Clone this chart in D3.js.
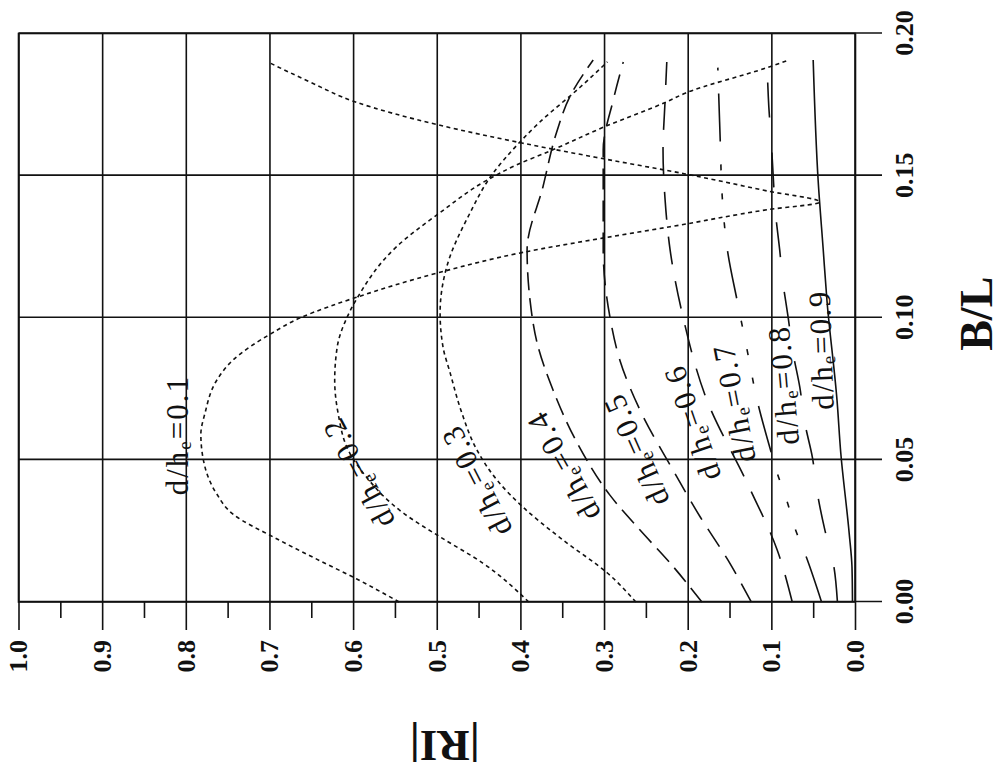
<!DOCTYPE html>
<html lang="en">
<head>
<meta charset="utf-8">
<title>|RI| vs B/L</title>
<script type="text/javascript" src="https://cdnjs.cloudflare.com/ajax/libs/d3/7.8.5/d3.min.js"></script>
<style>
body { margin: 0; background: #fff; }
.axis path { display: none; }
.axis line { stroke: #111; stroke-width: 1.6px; }
.axis text {
    font-family: "Liberation Serif", "Times New Roman", serif;
    font-weight: bold;
    font-size: 26px;
    fill: #111;
}
.curve { fill: none; stroke: #111; stroke-width: 1.6px; }
.lbl {
    font-family: "Liberation Serif", "Times New Roman", serif;
    font-size: 31px;
    letter-spacing: 2px;
    fill: #111;
}
</style>
</head>
<body>
<script type="text/javascript">

var w = 1003, h = 774;
// plot size in the chart's own (unrotated) frame
var W = 568.5, H = 836.5;

// axis ticks
var blTicks = [0.00, 0.05, 0.10, 0.15, 0.20];
var riTicks = [0.0, 0.1, 0.2, 0.3, 0.4, 0.5, 0.6, 0.7, 0.8, 0.9, 1.0];
var riMinor = [0.05, 0.15, 0.25, 0.35, 0.45, 0.55, 0.65, 0.75, 0.85, 0.95];

// curves, [B/L, |RI|]
var rh01 = [[0,0.545],[0.008,0.595],[0.015,0.643],[0.0225,0.693],[0.031,0.744],[0.038,0.763],[0.050,0.779],
            [0.059,0.782],[0.0665,0.777],[0.078,0.763],[0.085,0.744],[0.0946,0.697],[0.100,0.663],[0.104,0.628],
            [0.107,0.598],[0.116,0.496],[0.123,0.397],[0.128,0.302],[0.132,0.221],[0.138,0.105],[0.1407,0.042],
            [0.1446,0.105],[0.1506,0.203],[0.156,0.302],[0.1614,0.397],[0.1677,0.496],[0.176,0.598],[0.183,0.652],
            [0.190,0.702]];
var rh02 = [[0,0.39],[0.0137,0.445],[0.0229,0.496],[0.0313,0.540],[0.0454,0.588],[0.0524,0.604],[0.0665,0.618],
            [0.078,0.622],[0.0897,0.619],[0.1003,0.607],[0.107,0.595],[0.125,0.548],[0.137,0.496],[0.1484,0.44],
            [0.1537,0.405],[0.159,0.362],[0.167,0.301],[0.176,0.225],[0.179,0.203],[0.188,0.105],[0.1906,0.080]];
var rh03 = [[0,0.262],[0.0102,0.296],[0.0218,0.349],[0.0334,0.397],[0.0429,0.428],[0.0535,0.452],[0.0665,0.470],
            [0.0806,0.484],[0.0897,0.4925],[0.1017,0.496],[0.118,0.488],[0.137,0.46],[0.1495,0.436],[0.162,0.40],
            [0.1685,0.378],[0.181,0.329],[0.19,0.296]];
var rh04 = [[0,0.183],[0.0137,0.221],[0.0253,0.257],[0.0376,0.293],[0.0559,0.332],[0.0746,0.361],[0.0911,0.380],
            [0.1062,0.3885],[0.1238,0.392],[0.1461,0.373],[0.165,0.357],[0.1777,0.341],[0.1907,0.313]];
var rh05 = [[0,0.124],[0.0148,0.152],[0.0299,0.185],[0.0464,0.2176],[0.0675,0.257],[0.085,0.281],[0.1003,0.293],
            [0.1238,0.301],[0.159,0.301],[0.1766,0.289],[0.19,0.277]];
var rh06 = [[0,0.075],[0.0183,0.093],[0.0419,0.129],[0.071,0.177],[0.1003,0.2056],[0.1238,0.221],[0.1414,0.227],
            [0.159,0.2295],[0.1766,0.227],[0.19,0.225]];
var rh07 = [[0,0.04],[0.0172,0.060],[0.0253,0.071],[0.0352,0.081],[0.0454,0.093],[0.0545,0.102],[0.071,0.117],
            [0.0887,0.129],[0.1062,0.141],[0.1228,0.152],[0.1439,0.159],[0.1614,0.161],[0.188,0.164]];
var rh08 = [[0,0.021],[0.0137,0.026],[0.0253,0.036],[0.0383,0.045],[0.051,0.051],[0.063,0.060],[0.0756,0.066],
            [0.0876,0.074],[0.1003,0.080],[0.1122,0.086],[0.1238,0.090],[0.1369,0.095],[0.151,0.098],
            [0.1615,0.100],[0.1741,0.103],[0.188,0.105]];
var rh09 = [[0,0.003],[0.0123,0.0036],[0.0243,0.007],[0.0524,0.017],[0.071,0.0215],[0.106,0.0335],[0.124,0.038],
            [0.148,0.044],[0.1907,0.050]];

var ratios = ["0.1", "0.2", "0.3", "0.4", "0.5", "0.6", "0.7", "0.8", "0.9"];
var curves = [rh01, rh02, rh03, rh04, rh05, rh06, rh07, rh08, rh09];

// line styles per curve
var dashes = ["4,3.5", "4,3.5", "4,3.5", "18,8", "21,11", "28,17",
              "48,23,6,23,6,23,6,23", "35,35", null];

// where each curve label sits (B/L, |RI|) and its tilt in the chart frame
var labelAt = [[0.0587,0.810,0], [0.0454,0.594,-28], [0.0426,0.453,-27], [0.0478,0.349,-29],
               [0.0535,0.262,-24], [0.063,0.195,-19], [0.070,0.145,-11], [0.0763,0.086,-5],
               [0.0887,0.041,-2]];

var svg = d3.select("body")
            .append("svg")
            .attr("width", w)
            .attr("height", h);

svg.append("rect").attr("width", w).attr("height", h).attr("fill", "#fff");

// the whole chart is turned a quarter turn to the left
var g = svg.append("g")
           .attr("transform", "translate(18.5,602) rotate(-90)");

var x = d3.scaleLinear().domain([0, 0.2]).range([0, W]);
var y = d3.scaleLinear().domain([0, 1]).range([H, 0]);

var xAxis = d3.axisBottom(x)
              .tickValues(blTicks)
              .tickSize(27)
              .tickPadding(13)
              .tickFormat(d3.format(".2f"));
var gx = g.append("g")
          .attr("class", "axis")
          .attr("transform", "translate(0," + H + ")")
          .call(xAxis);
gx.selectAll(".tick line").attr("y1", -H);

var yAxis = d3.axisLeft(y)
              .tickValues(riTicks)
              .tickSize(28)
              .tickPadding(10)
              .tickFormat(d3.format(".1f"));
var gy = g.append("g")
          .attr("class", "axis")
          .call(yAxis);
gy.selectAll(".tick line").attr("x1", W);

g.append("g")
 .attr("class", "axis")
 .call(d3.axisLeft(y).tickValues(riMinor).tickSize(16).tickFormat(""));

g.append("rect")
 .attr("width", W)
 .attr("height", H)
 .attr("fill", "none")
 .attr("stroke", "#111")
 .attr("stroke-width", 1.6);

var line = d3.line()
             .x(function(d) { return x(d[0]); })
             .y(function(d) { return y(d[1]); })
             .curve(d3.curveMonotoneX);

g.selectAll("path.curve")
 .data(curves)
 .enter()
 .append("path")
 .attr("class", "curve")
 .attr("d", line)
 .attr("stroke-dasharray", function(d, i) { return dashes[i]; });

// curve labels  d/h_e=0.x
var lbl = g.selectAll("text.lbl")
           .data(ratios)
           .enter()
           .append("text")
           .attr("class", "lbl")
           .attr("text-anchor", "middle")
           .attr("dominant-baseline", "central")
           .attr("transform", function(d, i) {
               var p = labelAt[i];
               return "translate(" + x(p[0]) + "," + y(p[1]) + ") rotate(" + p[2] + ")";
           });
lbl.append("tspan").text("d/h");
lbl.append("tspan").attr("font-size", "19px").attr("dy", 7).text("e");
lbl.append("tspan").attr("dy", -7).text(function(d) { return "=" + d; });

// axis titles
g.append("text")
 .attr("x", W / 2 + 4)
 .attr("y", H + 137)
 .attr("text-anchor", "middle")
 .attr("font-family", "Liberation Serif, serif")
 .attr("font-weight", "bold")
 .attr("font-size", "46px")
 .attr("fill", "#111")
 .text("B/L");

g.append("text")
 .attr("transform", "translate(-129," + (H / 2 + 8) + ") rotate(-90)")
 .attr("text-anchor", "middle")
 .attr("font-family", "Liberation Serif, serif")
 .attr("font-weight", "bold")
 .attr("font-size", "45px")
 .attr("fill", "#111")
 .text("|RI|");

</script>
</body>
</html>
